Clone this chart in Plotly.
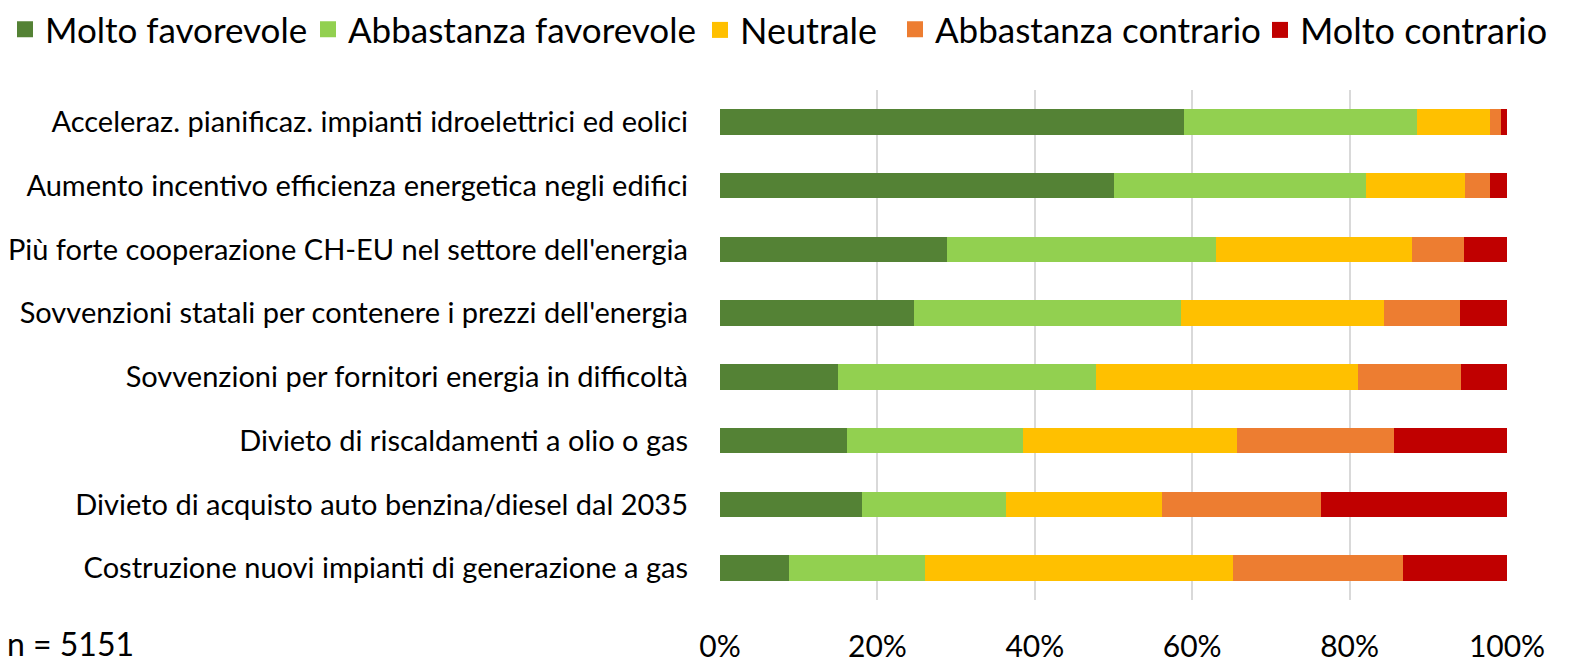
import plotly.graph_objects as go

categories = [
    "Acceleraz. pianificaz. impianti idroelettrici ed eolici",
    "Aumento incentivo efficienza energetica negli edifici",
    "Più forte cooperazione CH-EU nel settore dell'energia",
    "Sovvenzioni statali per contenere i prezzi dell'energia",
    "Sovvenzioni per fornitori energia in difficoltà",
    "Divieto di riscaldamenti a olio o gas",
    "Divieto di acquisto auto benzina/diesel dal 2035",
    "Costruzione nuovi impianti di generazione a gas",
]

molto_favorevole = [58.9, 50.1, 28.9, 24.6, 15.0, 16.1, 18.0, 8.8]
abbastanza_favorevole = [29.6, 32.0, 34.1, 34.0, 32.8, 22.4, 18.4, 17.3]
neutrale = [9.3, 12.6, 24.9, 25.8, 33.3, 27.2, 19.8, 39.1]
abbastanza_contrario = [1.4, 3.1, 6.6, 9.6, 13.1, 19.9, 20.2, 21.6]
molto_contrario = [0.8, 2.2, 5.5, 6.0, 5.8, 14.4, 23.6, 13.2]

series_names = ["Molto favorevole", "Abbastanza favorevole", "Neutrale",
                "Abbastanza contrario", "Molto contrario"]
series_values = [molto_favorevole, abbastanza_favorevole, neutrale,
                 abbastanza_contrario, molto_contrario]
series_colors = ["#548235", "#92D050", "#FFC000", "#ED7D31", "#C00000"]

tick_vals = [0, 20, 40, 60, 80, 100]
tick_text = ["0%", "20%", "40%", "60%", "80%", "100%"]

FONT = "Lato"
W, H = 1573, 665

# left edge (px) of each legend entry's text
legend_text_x = [47, 350, 742, 937, 1302]
legend_font_sizes = [35, 35, 36, 35, 36]

fig = go.Figure()
legend_ids = ["legend", "legend2", "legend3", "legend4", "legend5"]
for name, vals, color, lid in zip(series_names, series_values, series_colors, legend_ids):
    fig.add_trace(go.Bar(
        y=categories, x=vals, name=name, orientation="h",
        marker=dict(color=color, line=dict(width=0)),
        showlegend=False,
    ))
    # legend swatch
    fig.add_trace(go.Scatter(
        x=[None], y=[None], mode="markers", name=name,
        marker=dict(symbol="square", size=20, color=color),
        showlegend=True, legend=lid, hoverinfo="skip",
    ))

legend_layouts = {}
for lid, tx, fs in zip(legend_ids, legend_text_x, legend_font_sizes):
    legend_layouts[lid] = dict(
        orientation="h", xanchor="left", yanchor="top", y=1.0,
        xref="container", yref="container",
        font=dict(size=fs, family=FONT, color="#000000"),
        itemsizing="trace", itemwidth=30, bgcolor="rgba(0,0,0,0)",
        x=(tx - 42) / W,
    )

fig.update_layout(
    barmode="stack",
    bargap=0.6,
    width=W, height=H,
    margin=dict(l=720, r=66, t=90, b=65, autoexpand=False),
    paper_bgcolor="white", plot_bgcolor="white",
    font=dict(family=FONT, color="#000000"),
    xaxis=dict(
        range=[0, 100], tickvals=tick_vals, ticktext=tick_text,
        showgrid=True, gridcolor="#d9d9d9", gridwidth=1.5,
        zeroline=False, showline=False,
        tickfont=dict(size=30, family=FONT),
        ticklabelstandoff=26,
        fixedrange=True,
    ),
    yaxis=dict(
        categoryorder="array", categoryarray=categories[::-1],
        tickfont=dict(size=29, family=FONT),
        ticklabelstandoff=31,
        showgrid=False, showline=False,
    ),
    **legend_layouts,
)
fig.add_annotation(text="n = 5151", xref="paper", yref="paper",
                   x=-715 / 787, y=-43 / 510, xanchor="left", yanchor="middle",
                   showarrow=False, font=dict(size=32, family=FONT))

fig.write_html("out.html", config={"displayModeBar": False},
               post_script="document.body.style.margin='0';")
